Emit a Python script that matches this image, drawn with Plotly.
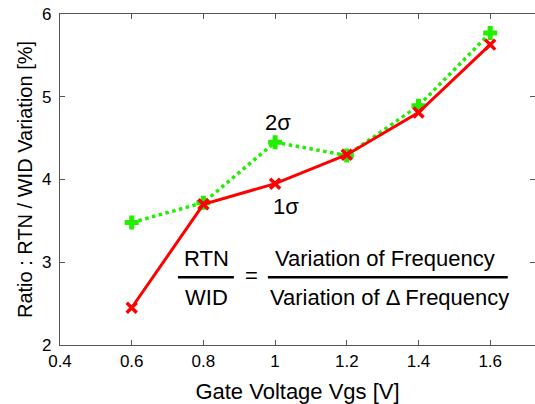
import plotly.graph_objects as go

vgs = [0.6, 0.8, 1.0, 1.2, 1.4, 1.6]
ratio_1sigma = [2.45, 3.70, 3.95, 4.30, 4.81, 5.63]
ratio_2sigma = [3.48, 3.72, 4.45, 4.29, 4.89, 5.77]
x_ticks = [0.4, 0.6, 0.8, 1.0, 1.2, 1.4, 1.6]
x_tick_labels = ["0.4", "0.6", "0.8", "1", "1.2", "1.4", "1.6"]
y_ticks = [2, 3, 4, 5, 6]

FONT = "Liberation Sans, Arial, sans-serif"

fig = go.Figure()
fig.add_trace(go.Scatter(
    x=vgs, y=ratio_2sigma, mode="lines+markers",
    line=dict(color="#22ee00", width=3.5, dash="dot"),
    marker=dict(symbol="cross-thin", size=10, color="#22ee00",
                line=dict(color="#22ee00", width=5)),
    showlegend=False))
fig.add_trace(go.Scatter(
    x=vgs, y=ratio_1sigma, mode="lines+markers",
    line=dict(color="#ff0000", width=3),
    marker=dict(symbol="x-thin", size=10, color="#ff0000",
                line=dict(color="#ff0000", width=3.5)),
    showlegend=False))

ann_font = dict(family=FONT, size=22, color="black")
anns = [
    dict(x=1.008, y=4.69, text="2σ"),
    dict(x=1.03, y=3.67, text="1σ"),
    dict(x=0.81, y=3.05, text="RTN"),
    dict(x=0.81, y=2.57, text="WID"),
    dict(x=0.935, y=2.84, text="="),
    dict(x=1.306, y=3.05, text="Variation of Frequency"),
    dict(x=1.32, y=2.57, text="Variation of Δ Frequency"),
]
for a in anns:
    fig.add_annotation(x=a["x"], y=a["y"], text=a["text"], showarrow=False,
                       font=ann_font, xanchor="center", yanchor="middle")

fig.add_shape(type="line", x0=0.729, x1=0.885, y0=2.82, y1=2.82,
              line=dict(color="black", width=2.5))
fig.add_shape(type="line", x0=0.98, x1=1.649, y0=2.82, y1=2.82,
              line=dict(color="black", width=2.5))

axis_common = dict(showgrid=False, zeroline=False, showline=True,
                   linecolor="#555555", linewidth=1.2, mirror="ticks",
                   ticks="inside", ticklen=5, tickcolor="#555555",
                   tickfont=dict(family=FONT, size=17, color="black"))

fig.update_xaxes(range=[0.4, 1.725], tickvals=x_ticks, ticktext=x_tick_labels,
                 ticklabelstandoff=0,
                 title=dict(text="Gate Voltage Vgs [V]",
                            font=dict(family=FONT, size=22, color="black"),
                            standoff=14),
                 **axis_common)
fig.update_yaxes(range=[2, 6], tickvals=y_ticks,
                 ticklabelstandoff=4,
                 title=dict(text="Ratio : RTN / WID Variation [%]",
                            font=dict(family=FONT, size=20, color="black"),
                            standoff=4),
                 **axis_common)

fig.update_layout(width=535, height=404,
                  margin=dict(l=60, r=0, t=14, b=59),
                  plot_bgcolor="white", paper_bgcolor="white")

fig.write_html("out.html")
